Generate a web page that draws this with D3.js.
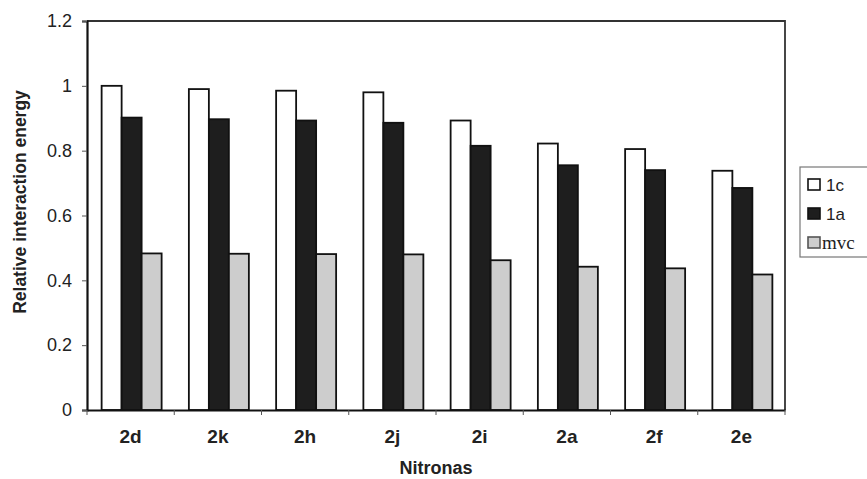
<!DOCTYPE html>
<html><head><meta charset="utf-8">
<script src="https://cdn.jsdelivr.net/npm/d3@7"></script>
<style>body{margin:0;background:#fff}svg{display:block}</style>
</head><body>
<svg id="c" width="867" height="479"></svg>
<script>
const categories = ["2d","2k","2h","2j","2i","2a","2f","2e"];
const seriesNames = ["1c","1a","mvc"];
const s1c = [1.0, 0.99, 0.985, 0.98, 0.893, 0.822, 0.805, 0.738];
const s1a = [0.902, 0.897, 0.893, 0.886, 0.815, 0.755, 0.74, 0.685];
const smvc = [0.483, 0.482, 0.481, 0.48, 0.462, 0.442, 0.437, 0.418];
const yTicks = [0, 0.2, 0.4, 0.6, 0.8, 1, 1.2];
const fills = ["#ffffff", "#1e1e1e", "#cdcdcd"];

const FONT = "Liberation Sans, Arial, sans-serif";
const svg = d3.select("#c");
const m = {l: 87, r: 785, t: 21, b: 410};
const x = d3.scaleBand().domain(categories).range([m.l, m.r]);
const xs = d3.scaleBand().domain(seriesNames).range([0, 60]);
const y = d3.scaleLinear().domain([0, 1.2]).range([m.b, m.t]);
const data = [s1c, s1a, smvc];

// frame top & right
svg.append("path").attr("d", `M${m.l},${m.t}H${m.r}V${m.b}`).attr("fill","none").attr("stroke","#333").attr("stroke-width",1.8);

const g = svg.append("g");
data.forEach((vals, si) => {
  g.selectAll(null).data(vals).enter().append("rect")
    .attr("x", (d,i) => x(categories[i]) + (x.bandwidth()-60)/2 + 1 + xs(seriesNames[si]))
    .attr("y", d => y(d))
    .attr("width", xs.bandwidth())
    .attr("height", d => y(0) - y(d))
    .attr("fill", fills[si]).attr("stroke", "#111").attr("stroke-width", 1.8);
});

// y axis
const ya = svg.append("g").attr("transform", `translate(${m.l},0)`)
  .call(d3.axisLeft(y).tickValues(yTicks).tickFormat(d => d3.format("")(d)).tickSize(5).tickPadding(10));
ya.select(".domain").attr("stroke","#111").attr("stroke-width",2.2);
ya.selectAll(".tick line").attr("stroke","#555");
ya.selectAll("text").attr("font-family",FONT).attr("font-size",18).attr("fill","#222");

// x axis
const xa = svg.append("g").attr("transform", `translate(0,${m.b})`)
  .call(d3.axisBottom(x).tickSize(0).tickPadding(20));
xa.select(".domain").attr("stroke","#111").attr("stroke-width",2.2);
xa.selectAll("text").attr("font-family",FONT).attr("font-size",19).attr("font-weight","bold").attr("fill","#222");
svg.append("g").selectAll(null).data(d3.range(categories.length+1)).enter().append("line")
  .attr("x1", i => m.l + i*x.step()).attr("x2", i => m.l + i*x.step())
  .attr("y1", m.b).attr("y2", m.b+5).attr("stroke","#555");

// titles
svg.append("text").attr("transform","translate(26,202) rotate(-90)").attr("text-anchor","middle")
  .attr("font-family",FONT).attr("font-size",17.5).attr("font-weight","bold").attr("fill","#222")
  .text("Relative interaction energy");
svg.append("text").attr("x",436).attr("y",474).attr("text-anchor","middle")
  .attr("font-family",FONT).attr("font-size",18).attr("font-weight","bold").attr("fill","#222")
  .text("Nitronas");

// legend
const lg = svg.append("g");
lg.append("rect").attr("x",800).attr("y",167).attr("width",80).attr("height",90).attr("fill","#fff").attr("stroke","#777").attr("stroke-width",1.2);
seriesNames.forEach((n,i) => {
  const yy = 179 + i*29;
  lg.append("rect").attr("x",808).attr("y",yy).attr("width",12).attr("height",11).attr("fill",fills[i]).attr("stroke", i===2 ? "#555" : "#111").attr("stroke-width",1.6);
  lg.append("text").attr("x", n === "mvc" ? 822 : 826).attr("y",yy+12)
    .attr("font-family", n === "mvc" ? "Liberation Serif, Times New Roman, serif" : FONT)
    .attr("font-size", n === "mvc" ? 19 : 17).attr("fill","#222").text(n);
});
</script>
</body></html>
